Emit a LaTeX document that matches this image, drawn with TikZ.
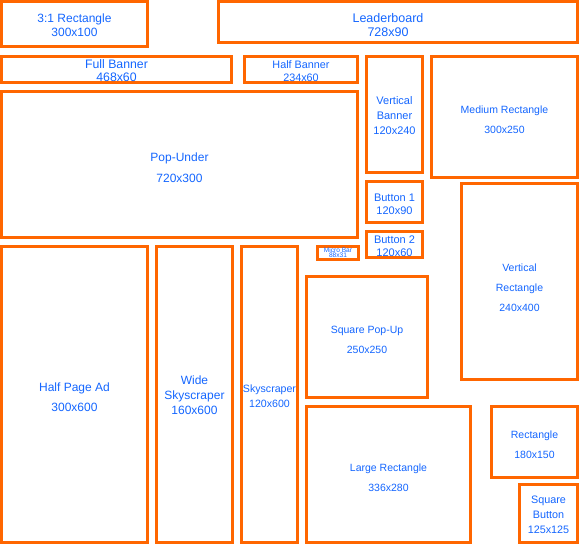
\documentclass[tikz,border=0pt]{standalone}
\usepackage{fontspec}
\setmainfont{Liberation Sans}
\usetikzlibrary{positioning}
\definecolor{adorange}{RGB}{255,102,0}
\definecolor{adblue}{RGB}{20,102,255}
% invisible strut on the first line: pushes the text down by #1pt
\newcommand\adgap[1]{\rule{0pt}{\dimexpr0.73em+#1pt+#1pt\relax}}

\begin{document}
\begin{tikzpicture}[x=1pt, y=-1pt,
    ad/.style={draw=adorange, line width=3pt, fill=white, inner sep=0pt, align=center, text=adblue,
      font=\fontsize{11.5}{14.5}\selectfont},
    roomy/.style={ad, font=\fontsize{10.5}{20}\selectfont},
    big/.style={ad, font=\fontsize{12}{20.5}\selectfont},
    tiny/.style={ad, line width=2.5pt, font=\fontsize{6.6}{5.2}\selectfont},
    wh/.style 2 args={minimum width=#1pt, minimum height=#2pt}
]
\useasboundingbox (0,0) rectangle (580,545);

% top rows
\node[ad, wh={146}{45}, font=\fontsize{12}{14.5}\selectfont] (rect31) at (74.5,24) {\adgap{1}3:1 Rectangle\\300x100};
\node[ad, wh={359}{41}, font=\fontsize{12.5}{14.5}\selectfont] (leader) at (398,22) {\adgap{3}Leaderboard\hspace*{20pt}\\728x90\hspace*{20pt}};
\node[ad, wh={230}{26}, font=\fontsize{12.3}{13}\selectfont] (fullban) at (116.5,69.5) {\adgap{1}Full Banner\\468x60};
\node[ad, wh={113}{26}, font=\fontsize{10.8}{13}\selectfont] (halfban) at (301,69.5) {\adgap{2}Half Banner\\234x60};

% middle block
\node[big, wh={356}{146}] (popunder) at (179.5,164.5) {\adgap{3}Pop-Under\\720x300};
\node[ad, wh={56}{116}, font=\fontsize{11}{15}\selectfont] (vertban) at (394.5,114.5) {\adgap{1}Vertical\\Banner\\120x240};
\node[roomy, wh={146}{121}] (medrect) at (504.5,117) {\adgap{3}Medium Rectangle\\300x250};
\node[ad, wh={56}{41}, font=\fontsize{11}{13}\selectfont] (btn1) at (394.5,202) {\adgap{2}Button 1\\120x90};
\node[ad, wh={56}{26}, font=\fontsize{11}{13}\selectfont] (btn2) at (394.5,244.5) {\adgap{2}Button 2\\120x60};
\node[tiny, wh={41}{13}] (microbar) at (338,253) {Micro Bar\\88x31};
\node[roomy, wh={116}{196}] (vertrect) at (519.5,281.5) {\adgap{6}Vertical\\Rectangle\\240x400};

% bottom block
\node[big, wh={146}{296}] (halfpage) at (74.5,394.5) {\adgap{2.5}Half Page Ad\\300x600};
\node[ad, wh={76}{296}, font=\fontsize{12}{15}\selectfont] (wideskys) at (194.5,394.5) {\adgap{1}Wide\\Skyscraper\\160x600};
\node[ad, wh={56}{296}, font=\fontsize{10.6}{15}\selectfont] (skys) at (269.5,394.5) {\adgap{2}Skyscraper\\120x600};
\node[roomy, wh={121}{121}] (sqpopup) at (367,337) {\adgap{3}Square Pop-Up\\250x250};
\node[roomy, wh={164}{136}] (largerect) at (388.5,474.5) {\adgap{3}Large Rectangle\\336x280};
\node[roomy, wh={86}{71}] (rect) at (534.5,442) {\adgap{3}Rectangle\\180x150};
\node[ad, wh={58}{58}, font=\fontsize{10.8}{15}\selectfont] (sqbtn) at (548.5,513.5) {\adgap{1}Square\\Button\\125x125};
\end{tikzpicture}
\end{document}
